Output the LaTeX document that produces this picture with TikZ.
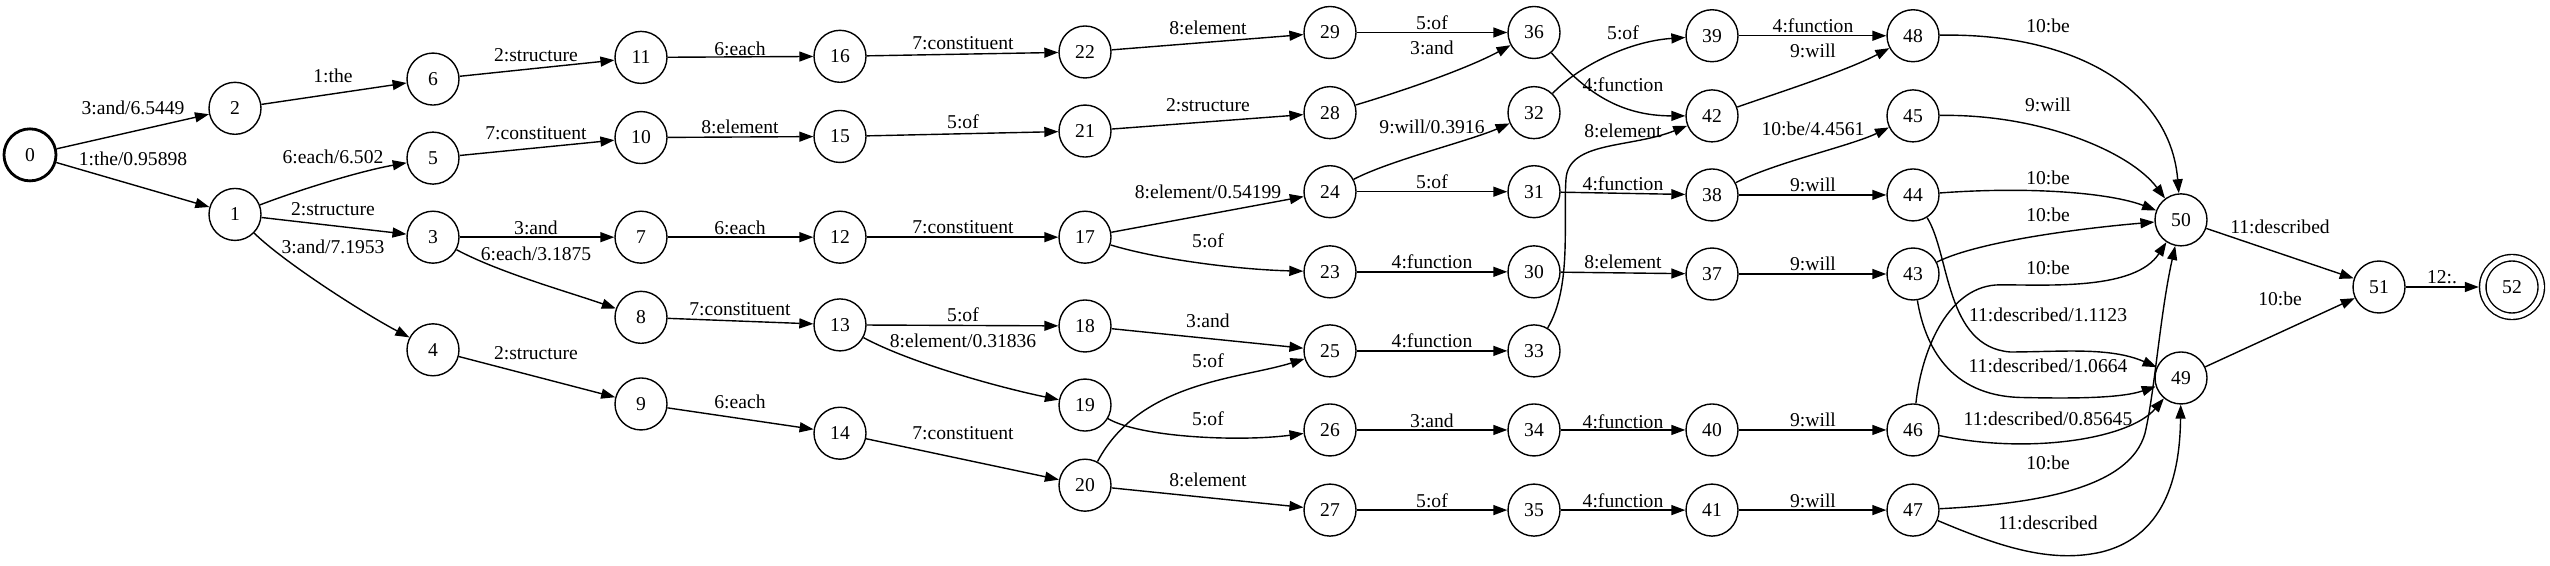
\documentclass[tikz,border=0pt]{standalone}
\usepackage{fontspec}
\setmainfont{Liberation Serif}
\usetikzlibrary{arrows.meta,shapes.geometric}
\begin{document}
\begin{tikzpicture}[x=1pt,y=-1.083pt,font=\fontsize{19.6pt}{24pt}\selectfont,
  st/.style={ellipse,draw,line width=1.4pt,minimum width=52pt,minimum height=52pt,inner sep=0pt},
  startst/.style={st,line width=2.8pt},
  finalst/.style={st,double,double distance=5.1pt,minimum width=58.5pt,minimum height=58.5pt,outer sep=3.95pt},
  ed/.style={line width=1.4pt,-{Triangle[length=14pt,width=10pt]}},
  lb/.style={inner sep=0pt}]
\useasboundingbox (0,0) rectangle (2550,522.6);
% states
\node[startst] (s0) at (30,143) {0};
\node[st] (s1) at (235,198) {1};
\node[st] (s2) at (235,100) {2};
\node[st] (s3) at (433,219) {3};
\node[st] (s4) at (433,323) {4};
\node[st] (s5) at (433,146) {5};
\node[st] (s6) at (433,73) {6};
\node[st] (s7) at (641,219) {7};
\node[st] (s8) at (641,293) {8};
\node[st] (s9) at (641,373) {9};
\node[st] (s10) at (641,127) {10};
\node[st] (s11) at (641,53) {11};
\node[st] (s12) at (840,219) {12};
\node[st] (s13) at (840,300) {13};
\node[st] (s14) at (840,400) {14};
\node[st] (s15) at (840,126) {15};
\node[st] (s16) at (840,52) {16};
\node[st] (s17) at (1085,219) {17};
\node[st] (s18) at (1085,301) {18};
\node[st] (s19) at (1085,374) {19};
\node[st] (s20) at (1085,448) {20};
\node[st] (s21) at (1085,121) {21};
\node[st] (s22) at (1085,48) {22};
\node[st] (s23) at (1330,251) {23};
\node[st] (s24) at (1330,177) {24};
\node[st] (s25) at (1330,324) {25};
\node[st] (s26) at (1330,397) {26};
\node[st] (s27) at (1330,471) {27};
\node[st] (s28) at (1330,104) {28};
\node[st] (s29) at (1330,30) {29};
\node[st] (s30) at (1534,251) {30};
\node[st] (s31) at (1534,177) {31};
\node[st] (s32) at (1534,104) {32};
\node[st] (s33) at (1534,324) {33};
\node[st] (s34) at (1534,397) {34};
\node[st] (s35) at (1534,471) {35};
\node[st] (s36) at (1534,30) {36};
\node[st] (s37) at (1712,253) {37};
\node[st] (s38) at (1712,180) {38};
\node[st] (s39) at (1712,33) {39};
\node[st] (s40) at (1712,397) {40};
\node[st] (s41) at (1712,471) {41};
\node[st] (s42) at (1712,107) {42};
\node[st] (s43) at (1913,253) {43};
\node[st] (s44) at (1913,180) {44};
\node[st] (s45) at (1913,107) {45};
\node[st] (s46) at (1913,397) {46};
\node[st] (s47) at (1913,471) {47};
\node[st] (s48) at (1913,33) {48};
\node[st] (s49) at (2181,349) {49};
\node[st] (s50) at (2181,203) {50};
\node[st] (s51) at (2379,265) {51};
\node[finalst] (s52) at (2512,265) {52};
% edges
\draw[ed] (s0) -- (s2);
\draw[ed] (s0) -- (s1);
\draw[ed] (s2) -- (s6);
\draw[ed] (s1) .. controls (300,175) and (360,158) .. (s5);
\draw[ed] (s1) -- (s3);
\draw[ed] (s1) .. controls (285,243) and (365,290) .. (s4);
\draw[ed] (s6) -- (s11);
\draw[ed] (s5) -- (s10);
\draw[ed] (s3) -- (s7);
\draw[ed] (s3) .. controls (500,252) and (570,270) .. (s8);
\draw[ed] (s4) -- (s9);
\draw[ed] (s11) -- (s16);
\draw[ed] (s10) -- (s15);
\draw[ed] (s7) -- (s12);
\draw[ed] (s8) -- (s13);
\draw[ed] (s9) -- (s14);
\draw[ed] (s16) -- (s22);
\draw[ed] (s15) -- (s21);
\draw[ed] (s12) -- (s17);
\draw[ed] (s13) -- (s18);
\draw[ed] (s13) .. controls (910,335) and (1000,358) .. (s19);
\draw[ed] (s14) -- (s20);
\draw[ed] (s22) -- (s29);
\draw[ed] (s21) -- (s28);
\draw[ed] (s17) -- (s24);
\draw[ed] (s17) .. controls (1160,240) and (1240,249) .. (s23);
\draw[ed] (s18) -- (s25);
\draw[ed] (s20) .. controls (1140,352) and (1240,350) .. (s25);
\draw[ed] (s19) .. controls (1140,404) and (1240,408) .. (s26);
\draw[ed] (s20) -- (s27);
\draw[ed] (s29) -- (s36);
\draw[ed] (s28) .. controls (1410,82) and (1470,62) .. (s36);
\draw[ed] (s24) .. controls (1390,148) and (1470,130) .. (s32);
\draw[ed] (s24) -- (s31);
\draw[ed] (s23) -- (s30);
\draw[ed] (s25) -- (s33);
\draw[ed] (s26) -- (s34);
\draw[ed] (s27) -- (s35);
\draw[ed] (s32) .. controls (1580,60) and (1630,38) .. (s39);
\draw[ed] (s36) .. controls (1585,85) and (1620,107) .. (s42);
\draw[ed] (s33) .. controls (1572,265) and (1563,205) .. (1566,165) .. controls (1569,130) and (1630,137) .. (s42);
\draw[ed] (s31) -- (s38);
\draw[ed] (s30) -- (s37);
\draw[ed] (s34) -- (s40);
\draw[ed] (s35) -- (s41);
\draw[ed] (s39) -- (s48);
\draw[ed] (s42) .. controls (1780,85) and (1845,66) .. (s48);
\draw[ed] (s38) .. controls (1775,150) and (1850,135) .. (s45);
\draw[ed] (s38) -- (s44);
\draw[ed] (s37) -- (s43);
\draw[ed] (s40) -- (s46);
\draw[ed] (s41) -- (s47);
\draw[ed] (s48) .. controls (2070,30) and (2170,80) .. (s50);
\draw[ed] (s45) .. controls (2040,105) and (2130,140) .. (s50);
\draw[ed] (s44) .. controls (2030,172) and (2110,178) .. (s50);
\draw[ed] (s43) .. controls (1980,222) and (2090,210) .. (s50);
\draw[ed] (s46) .. controls (1922,320) and (1950,263) .. (2000,263) .. controls (2050,263) and (2135,268) .. (s50);
\draw[ed] (s44) .. controls (1950,235) and (1945,320) .. (2010,325) .. controls (2060,325) and (2110,320) .. (s49);
\draw[ed] (s43) .. controls (1925,320) and (1950,365) .. (2020,367) .. controls (2070,368) and (2120,368) .. (s49);
\draw[ed] (s46) .. controls (2030,420) and (2130,405) .. (s49);
\draw[ed] (s47) .. controls (2040,465) and (2130,450) .. (2145,400) .. controls (2155,360) and (2160,290) .. (s50);
\draw[ed] (s47) .. controls (2000,505) and (2050,520) .. (2100,510) .. controls (2170,495) and (2180,430) .. (s49);
\draw[ed] (s50) -- (s51);
\draw[ed] (s49) -- (s51);
\draw[ed] (s51) -- (s52);
% labels
\node[lb] (l0a) at (133,100) {3:and/6.5449};
\node[lb] (l0b) at (133,147) {1:the/0.95898};
\node[lb] (l2a) at (333,70) {1:the};
\node[lb] (l1a) at (333,145) {6:each/6.502};
\node[lb] (l1b) at (333,193) {2:structure};
\node[lb] (l1c) at (333,228) {3:and/7.1953};
\node[lb] (l6a) at (536,51) {2:structure};
\node[lb] (l5a) at (536,123) {7:constituent};
\node[lb] (l3a) at (536,210) {3:and};
\node[lb] (l3b) at (536,234) {6:each/3.1875};
\node[lb] (l4a) at (536,326) {2:structure};
\node[lb] (l11a) at (740,45) {6:each};
\node[lb] (l10a) at (740,117) {8:element};
\node[lb] (l7a) at (740,210) {6:each};
\node[lb] (l8a) at (740,285) {7:constituent};
\node[lb] (l9a) at (740,371) {6:each};
\node[lb] (l16a) at (963,40) {7:constituent};
\node[lb] (l15a) at (963,112) {5:of};
\node[lb] (l12a) at (963,210) {7:constituent};
\node[lb] (l13a) at (963,291) {5:of};
\node[lb] (l13b) at (963,315) {8:element/0.31836};
\node[lb] (l14a) at (963,400) {7:constituent};
\node[lb] (l22a) at (1208,26) {8:element};
\node[lb] (l21a) at (1208,97) {2:structure};
\node[lb] (l17a) at (1208,177) {8:element/0.54199};
\node[lb] (l17b) at (1208,222) {5:of};
\node[lb] (l18a) at (1208,296) {3:and};
\node[lb] (l20a) at (1208,333) {5:of};
\node[lb] (l19a) at (1208,387) {5:of};
\node[lb] (l20b) at (1208,443) {8:element};
\node[lb] (l29a) at (1432,21) {5:of};
\node[lb] (l28a) at (1432,44) {3:and};
\node[lb] (l24a) at (1432,117) {9:will/0.3916};
\node[lb] (l24b) at (1432,168) {5:of};
\node[lb] (l23a) at (1432,242) {4:function};
\node[lb] (l25a) at (1432,315) {4:function};
\node[lb] (l26a) at (1432,389) {3:and};
\node[lb] (l27a) at (1432,462) {5:of};
\node[lb] (l32a) at (1623,30) {5:of};
\node[lb] (l36a) at (1623,78) {4:function};
\node[lb] (l33a) at (1623,121) {8:element};
\node[lb] (l31a) at (1623,170) {4:function};
\node[lb] (l30a) at (1623,242) {8:element};
\node[lb] (l34a) at (1623,389) {4:function};
\node[lb] (l35a) at (1623,462) {4:function};
\node[lb] (l39a) at (1813,24) {4:function};
\node[lb] (l42a) at (1813,47) {9:will};
\node[lb] (l38a) at (1813,119) {10:be/4.4561};
\node[lb] (l38b) at (1813,171) {9:will};
\node[lb] (l37a) at (1813,244) {9:will};
\node[lb] (l40a) at (1813,388) {9:will};
\node[lb] (l41a) at (1813,462) {9:will};
\node[lb] (l48a) at (2048,24) {10:be};
\node[lb] (l45a) at (2048,97) {9:will};
\node[lb] (l44a) at (2048,164) {10:be};
\node[lb] (l43a) at (2048,198) {10:be};
\node[lb] (l46a) at (2048,247) {10:be};
\node[lb] (l44b) at (2048,291) {11:described/1.1123};
\node[lb] (l43b) at (2048,338) {11:described/1.0664};
\node[lb] (l46b) at (2048,387) {11:described/0.85645};
\node[lb] (l47a) at (2048,427) {10:be};
\node[lb] (l47b) at (2048,483) {11:described};
\node[lb] (l50a) at (2280,209) {11:described};
\node[lb] (l49a) at (2280,276) {10:be};
\node[lb] (l51a) at (2442,256) {12:.};
\end{tikzpicture}
\end{document}
